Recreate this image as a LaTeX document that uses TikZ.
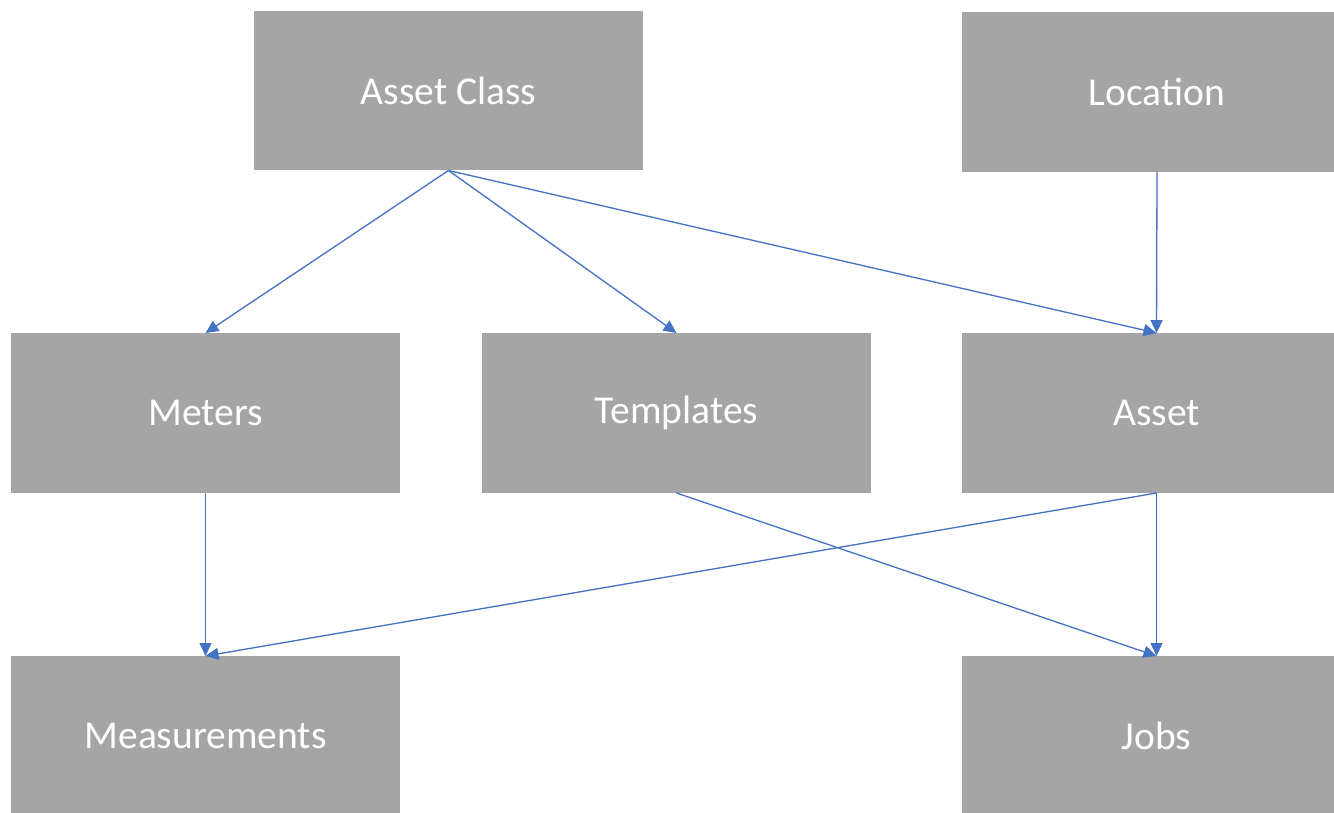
\documentclass[tikz,border=0pt]{standalone}
\usepackage{fontspec}
\setmainfont{Carlito}
\usetikzlibrary{arrows.meta}
\definecolor{boxgray}{HTML}{A5A5A5}
\definecolor{linkblue}{HTML}{4472C4}
\begin{document}
\begin{tikzpicture}[
    x=0.02cm, y=-0.02cm,
    entity/.style={
        rectangle,
        minimum width=7.8cm,
        minimum height=3.2cm,
        inner sep=0pt,
        outer sep=0pt,
        fill=boxgray,
        text=white,
        font=\fontsize{22.5}{27}\selectfont
    },
    link/.style={
        draw=linkblue,
        line width=0.75pt,
        -{Triangle[length=0.26cm,width=0.24cm]}
    }
]
\clip (0,0) rectangle (1334,812);

\node[entity] (assetclass) at (448.5,90.5) {Asset Class};
\node[entity] (location) at (1157,92) {Location};

\node[entity] (meters) at (205.5,413) {Meters};
\node[entity] (templates) at (676.5,413) {Templates};
\node[entity] (asset) at (1156.5,413) {Asset};

\node[entity] (measurements) at (205.5,736) {Measurements};
\node[entity] (jobs) at (1156.5,736) {Jobs};

\draw[link] (assetclass.south) -- (meters.north);
\draw[link] (assetclass.south) -- (templates.north);
\draw[link] (assetclass.south) -- (asset.north);
\draw[link] (location.south) -- (asset.north);
\draw[link] (meters.south) -- (measurements.north);
\draw[link] (asset.south) -- (measurements.north);
\draw[link] (templates.south) -- (jobs.north);
\draw[link] (asset.south) -- (jobs.north);

\end{tikzpicture}
\end{document}
